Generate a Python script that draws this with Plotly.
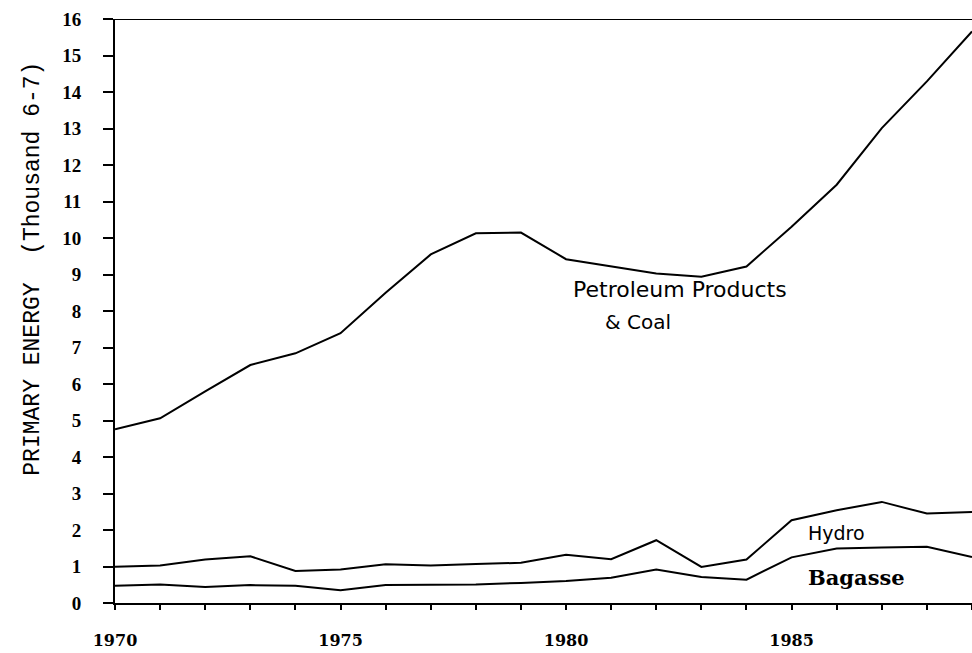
import plotly.graph_objects as go

years = list(range(1970, 1990))
petroleum_coal = [4.76, 5.06, 5.80, 6.52, 6.84, 7.39, 8.50, 9.55, 10.13, 10.15,
                  9.42, 9.22, 9.03, 8.94, 9.22, 10.31, 11.46, 13.01, 14.29, 15.66]
hydro = [0.99, 1.03, 1.19, 1.28, 0.88, 0.92, 1.06, 1.03, 1.07, 1.10,
         1.32, 1.20, 1.72, 0.99, 1.19, 2.27, 2.54, 2.77, 2.45, 2.49]
bagasse = [0.47, 0.51, 0.44, 0.49, 0.47, 0.35, 0.49, 0.49, 0.51, 0.55,
           0.60, 0.69, 0.92, 0.71, 0.64, 1.25, 1.49, 1.52, 1.54, 1.26]

x_tick_vals = years
x_tick_text = [str(y) if y % 5 == 0 else "" for y in years]
y_tick_vals = list(range(0, 17))
y_tick_text = [str(v) for v in y_tick_vals]

fig = go.Figure()
for name, vals in [("Petroleum Products & Coal", petroleum_coal),
                   ("Hydro", hydro), ("Bagasse", bagasse)]:
    fig.add_trace(go.Scatter(x=years, y=vals, mode="lines", name=name,
                             line=dict(color="black", width=2)))

# top frame line at 16
fig.add_shape(type="line", xref="paper", yref="y", x0=-0.008, x1=1, y0=16, y1=16,
              line=dict(color="black", width=2))

fig.update_layout(
    width=972, height=653,
    margin=dict(l=115, r=0, t=19, b=50),
    paper_bgcolor="white", plot_bgcolor="white",
    showlegend=False,
    xaxis=dict(range=[1970, 1989], tickvals=x_tick_vals, ticktext=x_tick_text,
               ticks="outside", ticklen=5, tickwidth=1.5, tickcolor="black",
               showline=True, linecolor="black", linewidth=2,
               showgrid=False, zeroline=False, ticklabelstandoff=17,
               automargin=False,
               tickfont=dict(family="DejaVu Serif", size=16, color="black", weight="bold")),
    yaxis=dict(range=[0, 16], tickvals=y_tick_vals, ticktext=y_tick_text,
               ticks="outside", ticklen=10, tickwidth=1.5, tickcolor="black",
               showline=True, linecolor="black", linewidth=2,
               showgrid=False, zeroline=False, ticklabelstandoff=18,
               automargin=False,
               tickfont=dict(family="Liberation Serif", size=19, color="black", weight="bold")),
)

fig.add_annotation(text="PRIMARY ENERGY  (Thousand 6-7)", xref="paper", yref="paper",
                   x=-0.096, y=0.572, xanchor="center", yanchor="middle",
                   textangle=-90, showarrow=False,
                   font=dict(family="Liberation Mono", size=23, color="black"))
fig.add_annotation(text="Petroleum Products", x=1980.12, y=8.58, xanchor="left",
                   showarrow=False,
                   font=dict(family="DejaVu Sans", size=22, color="black"))
fig.add_annotation(text="& Coal", x=1980.82, y=7.70, xanchor="left",
                   showarrow=False,
                   font=dict(family="DejaVu Sans", size=20, color="black"))
fig.add_annotation(text="Hydro", x=1985.33, y=1.91, xanchor="left",
                   showarrow=False,
                   font=dict(family="DejaVu Sans", size=19, color="black"))
fig.add_annotation(text="Bagasse", x=1985.33, y=0.70, xanchor="left",
                   showarrow=False,
                   font=dict(family="DejaVu Serif", size=21, color="black", weight="bold"))

fig.write_html("out.html", config={"displayModeBar": False},
               post_script="document.body.style.margin='0';")
